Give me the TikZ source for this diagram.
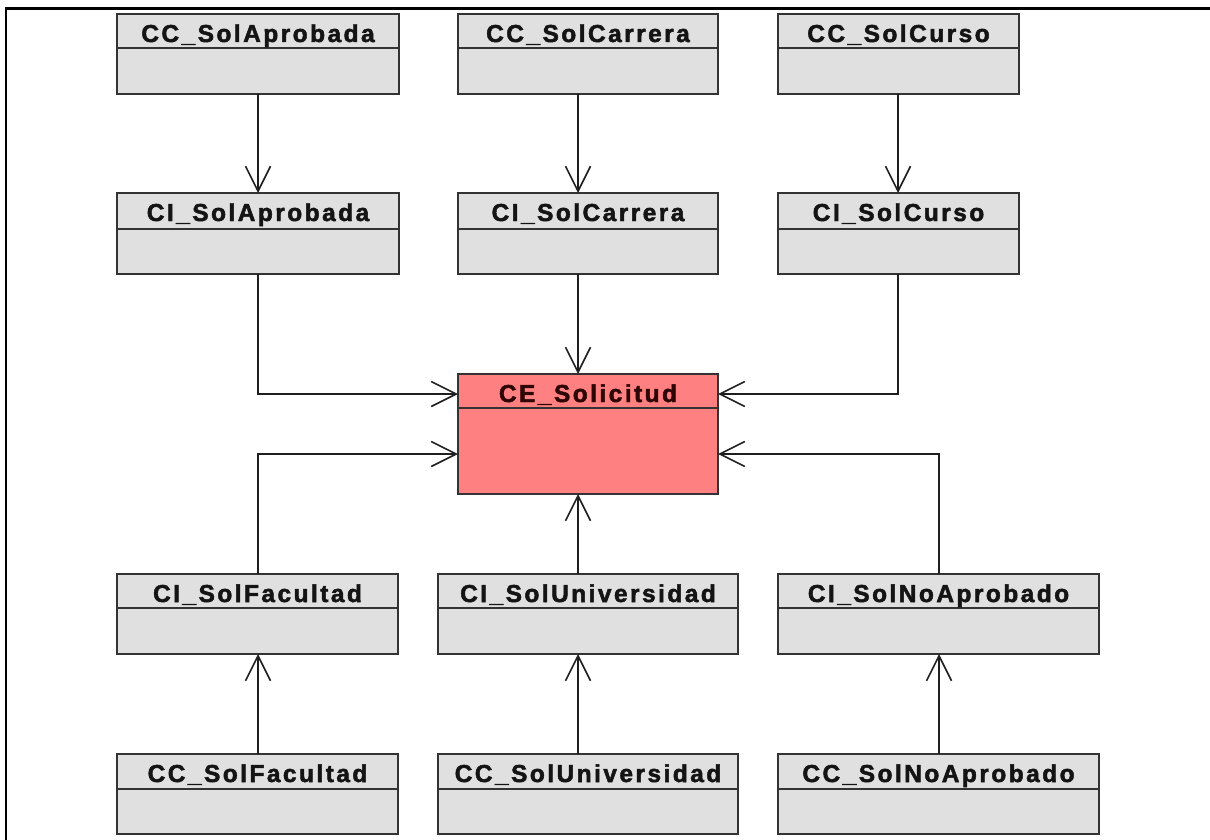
\documentclass[tikz,border=0pt]{standalone}
\usepackage{fontspec}
\setmainfont{Liberation Sans}
\newfontfamily\classfont[LetterSpace=10, BoldFeatures={FakeBold=2}]{Liberation Sans}
\usetikzlibrary{arrows.meta,calc}

\definecolor{boxfill}{HTML}{E0E0E0}
\definecolor{boxline}{HTML}{333333}
\definecolor{entityfill}{HTML}{FF8080}
\definecolor{entitytext}{HTML}{2E0606}

\tikzset{
  classbody/.style={draw=boxline, line width=1.6pt, fill=boxfill, inner sep=0pt,
    outer sep=0pt, anchor=north west},
  entitybody/.style={classbody, fill=entityfill},
  divider/.style={draw=boxline, line width=1.6pt},
  classname/.style={anchor=base, inner sep=0pt,
    font=\classfont\bfseries\fontsize{24.5}{24.5}\selectfont, text=black!92},
  assoc/.style={line width=1.6pt, draw=black!88,
    -{Straight Barb[length=25pt,width=25pt,line width=1.6pt]}},
  frameline/.style={line width=2.5pt, draw=black},
}

% #1 body style, #2 name, #3 left, #4 top, #5 width, #6 height,
% #7 header height, #8 class name
\newcommand\classbox[8][classbody]{%
  \node[#1, minimum width=#5pt, minimum height=#6pt] (#2) at (#3,#4) {};
  \draw[divider] ($(#2.north west)+(0,#7)$) -- ($(#2.north east)+(0,#7)$);
  \node[classname] (#2-name) at ($(#2.north)+(0,28)$) {#8};
}

\begin{document}
\begin{tikzpicture}[x=1pt,y=-1pt]
\useasboundingbox (0,0) rectangle (1210,840);

% outer frame (left and top edges)
\draw[frameline] (6,840) -- (6,8.5) -- (1210,8.5);

% control classes (top row)
\classbox{ccApr}{117}{14}{282}{80}{34}{CC\_SolAprobada}
\classbox{ccCar}{458}{14}{260}{80}{34}{CC\_SolCarrera}
\classbox{ccCur}{778}{14}{241}{80}{34}{CC\_SolCurso}

% interface classes (second row)
\classbox{ciApr}{117}{193}{282}{81}{36}{CI\_SolAprobada}
\classbox{ciCar}{458}{193}{260}{81}{36}{CI\_SolCarrera}
\classbox{ciCur}{778}{193}{241}{81}{36}{CI\_SolCurso}

% entity class
\classbox[entitybody]{ce}{458}{374}{260}{120}{34}{\textcolor{entitytext}{CE\_Solicitud}}

% interface classes (third row)
\classbox{ciFac}{117}{574}{281}{80}{34}{CI\_SolFacultad}
\classbox{ciUni}{438}{574}{300}{80}{34}{CI\_SolUniversidad}
\classbox{ciNoA}{778}{574}{321}{80}{34}{CI\_SolNoAprobado}

% control classes (bottom row)
\classbox{ccFac}{117}{754}{281}{80}{35}{CC\_SolFacultad}
\classbox{ccUni}{438}{754}{300}{80}{35}{CC\_SolUniversidad}
\classbox{ccNoA}{778}{754}{321}{80}{35}{CC\_SolNoAprobado}

% routing guides
\coordinate (colA) at (258,0);
\coordinate (colB) at (578,0);
\coordinate (colC) at (898,0);
\coordinate (colD) at (939,0);
\coordinate (rowU) at (0,394);
\coordinate (rowL) at (0,454);

% associations
\draw[assoc] (ccApr.south -| colA) -- (ciApr.north -| colA);
\draw[assoc] (ccCar.south -| colB) -- (ciCar.north -| colB);
\draw[assoc] (ccCur.south -| colC) -- (ciCur.north -| colC);

\draw[assoc] (ciApr.south -| colA) |- (ce.west |- rowU);
\draw[assoc] (ciCar.south -| colB) -- (ce.north -| colB);
\draw[assoc] (ciCur.south -| colC) |- (ce.east |- rowU);

\draw[assoc] (ciFac.north -| colA) |- (ce.west |- rowL);
\draw[assoc] (ciUni.north -| colB) -- (ce.south -| colB);
\draw[assoc] (ciNoA.north -| colD) |- (ce.east |- rowL);

\draw[assoc] (ccFac.north -| colA) -- (ciFac.south -| colA);
\draw[assoc] (ccUni.north -| colB) -- (ciUni.south -| colB);
\draw[assoc] (ccNoA.north -| colD) -- (ciNoA.south -| colD);
\end{tikzpicture}
\end{document}
